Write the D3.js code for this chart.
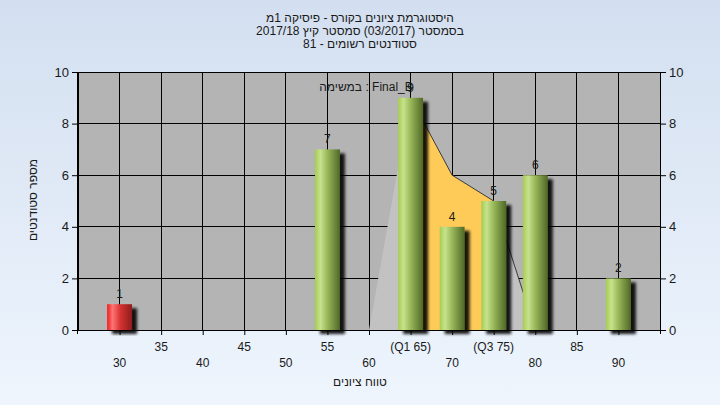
<!DOCTYPE html>
<html><head><meta charset="utf-8">
<script src="https://cdn.jsdelivr.net/npm/d3@7"></script>
<style>
html,body{margin:0;padding:0;}
body{width:720px;height:405px;overflow:hidden;}
text{font-family:"Liberation Sans","DejaVu Sans",Arial,sans-serif;fill:#1a1a1a;}
.rtl{direction:rtl;}
</style></head>
<body>
<svg id="c" width="720" height="405"></svg>
<script>
// ---- data ----
const titleLines = ["היסטוגרמת ציונים בקורס - פיסיקה 1מ", "בסמסטר (03/2017) סמסטר קיץ 2017/18", "סטודנטים רשומים - 81"];
const yTitle = "מספר סטודנטים";
const xTitle = "טווח ציונים";
const examLabel = "במשימה : Final_B";
const grades = [30, 55, 65, 70, 75, 80, 90];
const counts = [1, 7, 9, 4, 5, 6, 2];
const xTicks = [30, 35, 40, 45, 50, 55, 60, 65, 70, 75, 80, 85, 90];
const xTickLabels = ["30", "35", "40", "45", "50", "55", "60", "(Q1 65)", "70", "(Q3 75)", "80", "85", "90"];
const yTicks = [0, 2, 4, 6, 8, 10];
const curveX = [60, 65, 70, 75, 80];
const curveY = [0, 9, 6, 5, 0];
const q1 = 65, q3 = 75;
const passGrade = 55;

const svg = d3.select("#c");
const defs = svg.append("defs");
const bg = defs.append("linearGradient").attr("id","bg").attr("x1",0).attr("y1",0).attr("x2",0).attr("y2",1);
bg.append("stop").attr("offset","0%").attr("stop-color","#d3dff0");
bg.append("stop").attr("offset","100%").attr("stop-color","#eef5fd");
const gg = defs.append("linearGradient").attr("id","gGreen");
[["0%","#a6cc52"],["22%","#c6e28c"],["50%","#98b85a"],["100%","#4f6826"]].forEach(s=>gg.append("stop").attr("offset",s[0]).attr("stop-color",s[1]));
const gr = defs.append("linearGradient").attr("id","gRed");
[["0%","#ee1c1c"],["22%","#ff7474"],["55%","#d43030"],["100%","#8c1e1e"]].forEach(s=>gr.append("stop").attr("offset",s[0]).attr("stop-color",s[1]));
const f = defs.append("filter").attr("id","sh").attr("x","-20%").attr("y","-20%").attr("width","160%").attr("height","140%");
f.append("feGaussianBlur").attr("in","SourceAlpha").attr("stdDeviation",1.8).attr("result","b");
f.append("feOffset").attr("in","b").attr("dx",5).attr("dy",4).attr("result","o");
f.append("feComponentTransfer").attr("in","o").attr("result","o2").append("feFuncA").attr("type","linear").attr("slope",0.9);
const fm = f.append("feMerge"); fm.append("feMergeNode").attr("in","o2"); fm.append("feMergeNode").attr("in","SourceGraphic");

svg.append("rect").attr("width",720).attr("height",405).attr("fill","url(#bg)");

const x = d3.scaleLinear().domain([25, 95]).range([78, 660]);
const y = d3.scaleLinear().domain([0, 10]).range([330, 72]);

// plot area
svg.append("rect").attr("x",x(25)).attr("y",y(10)).attr("width",x(95)-x(25)).attr("height",y(0)-y(10)).attr("fill","#b4b4b4");

// grid
svg.append("g").selectAll("line").data(xTicks).join("line")
  .attr("x1",d=>x(d)).attr("x2",d=>x(d)).attr("y1",y(10)).attr("y2",y(0)).attr("stroke","#000").attr("shape-rendering","crispEdges");
svg.append("g").selectAll("line").data(yTicks).join("line")
  .attr("x1",x(25)).attr("x2",x(95)).attr("y1",d=>y(d)).attr("y2",d=>y(d)).attr("stroke","#000").attr("shape-rendering","crispEdges");

// distribution area
const pts = curveX.map((v,i)=>[v, curveY[i]]);
const area = d3.area().x(d=>x(d[0])).y0(y(0)).y1(d=>y(d[1]));
svg.append("path").datum(pts).attr("d",area).attr("fill","#c2c2c2");
svg.append("path").datum(pts.filter(d=>d[0]>=q1 && d[0]<=q3)).attr("d",area).attr("fill","#ffcb58");
svg.append("path").datum(pts.filter(d=>d[0]>=q1)).attr("d",d3.line().x(d=>x(d[0])).y(d=>y(d[1])))
  .attr("fill","none").attr("stroke","#3a3a3a").attr("stroke-width",1);

// axes
const gL = svg.append("g").attr("transform",`translate(${x(25)},0)`).call(d3.axisLeft(y).tickValues(yTicks).tickSize(6).tickPadding(3));
const gR = svg.append("g").attr("transform",`translate(${x(95)},0)`).call(d3.axisRight(y).tickValues(yTicks).tickSize(6).tickPadding(3));
const gB = svg.append("g").attr("transform",`translate(0,${y(0)})`).call(d3.axisBottom(x).tickValues(xTicks).tickSize(5).tickFormat(""));
[gL,gR,gB].forEach(g=>{g.selectAll(".domain").attr("stroke","#000");g.selectAll("line").attr("stroke","#000");
  g.selectAll("text").attr("font-size",13).attr("fill","#1a1a1a").attr("font-family",null);});
gB.select(".domain").remove();
svg.append("line").attr("x1",x(25)-1).attr("x2",x(95)+1).attr("y1",y(0)+0.5).attr("y2",y(0)+0.5).attr("stroke","#000");
svg.append("line").attr("x1",x(25)-0.5).attr("x2",x(25)-0.5).attr("y1",y(10)).attr("y2",y(0)+4).attr("stroke","#000");
svg.append("line").attr("x1",x(95)+0.5).attr("x2",x(95)+0.5).attr("y1",y(10)).attr("y2",y(0)+4).attr("stroke","#000");

// x tick labels, staggered
svg.append("g").selectAll("text").data(xTicks).join("text")
  .attr("x",d=>x(d)).attr("y",(d,i)=> i%2===1 ? 351 : 367)
  .attr("text-anchor","middle").attr("font-size",12).text((d,i)=>xTickLabels[i]);

// bars
const bw = x(1.5)-x(-1.5);
svg.append("g").selectAll("rect").data(grades).join("rect")
  .attr("x",d=>x(d)-bw/2).attr("width",bw)
  .attr("y",(d,i)=>y(counts[i])).attr("height",(d,i)=>y(0)-y(counts[i]))
  .attr("fill",d=> d<passGrade ? "url(#gRed)" : "url(#gGreen)").attr("filter","url(#sh)");

// value labels
svg.append("g").selectAll("text").data(grades).join("text")
  .attr("x",d=>x(d)).attr("y",(d,i)=>y(counts[i])-6).attr("text-anchor","middle").attr("font-size",12)
  .text((d,i)=>counts[i]);

// exam label (LTR base, Hebrew on the left)
svg.append("text").attr("x",366).attr("y",91).attr("text-anchor","middle").attr("font-size",12).text(examLabel);

// titles
svg.append("g").selectAll("text").data(titleLines).join("text").attr("class","rtl")
  .attr("x",360).attr("y",(d,i)=>22+i*13).attr("text-anchor","middle").attr("font-size",12).text(d=>d);

svg.append("text").attr("class","rtl").attr("x",360).attr("y",386).attr("text-anchor","middle").attr("font-size",12).text(xTitle);
svg.append("text").attr("class","rtl").attr("transform","translate(37,200) rotate(-90)").attr("text-anchor","middle").attr("font-size",12).text(yTitle);
</script>
</body></html>
